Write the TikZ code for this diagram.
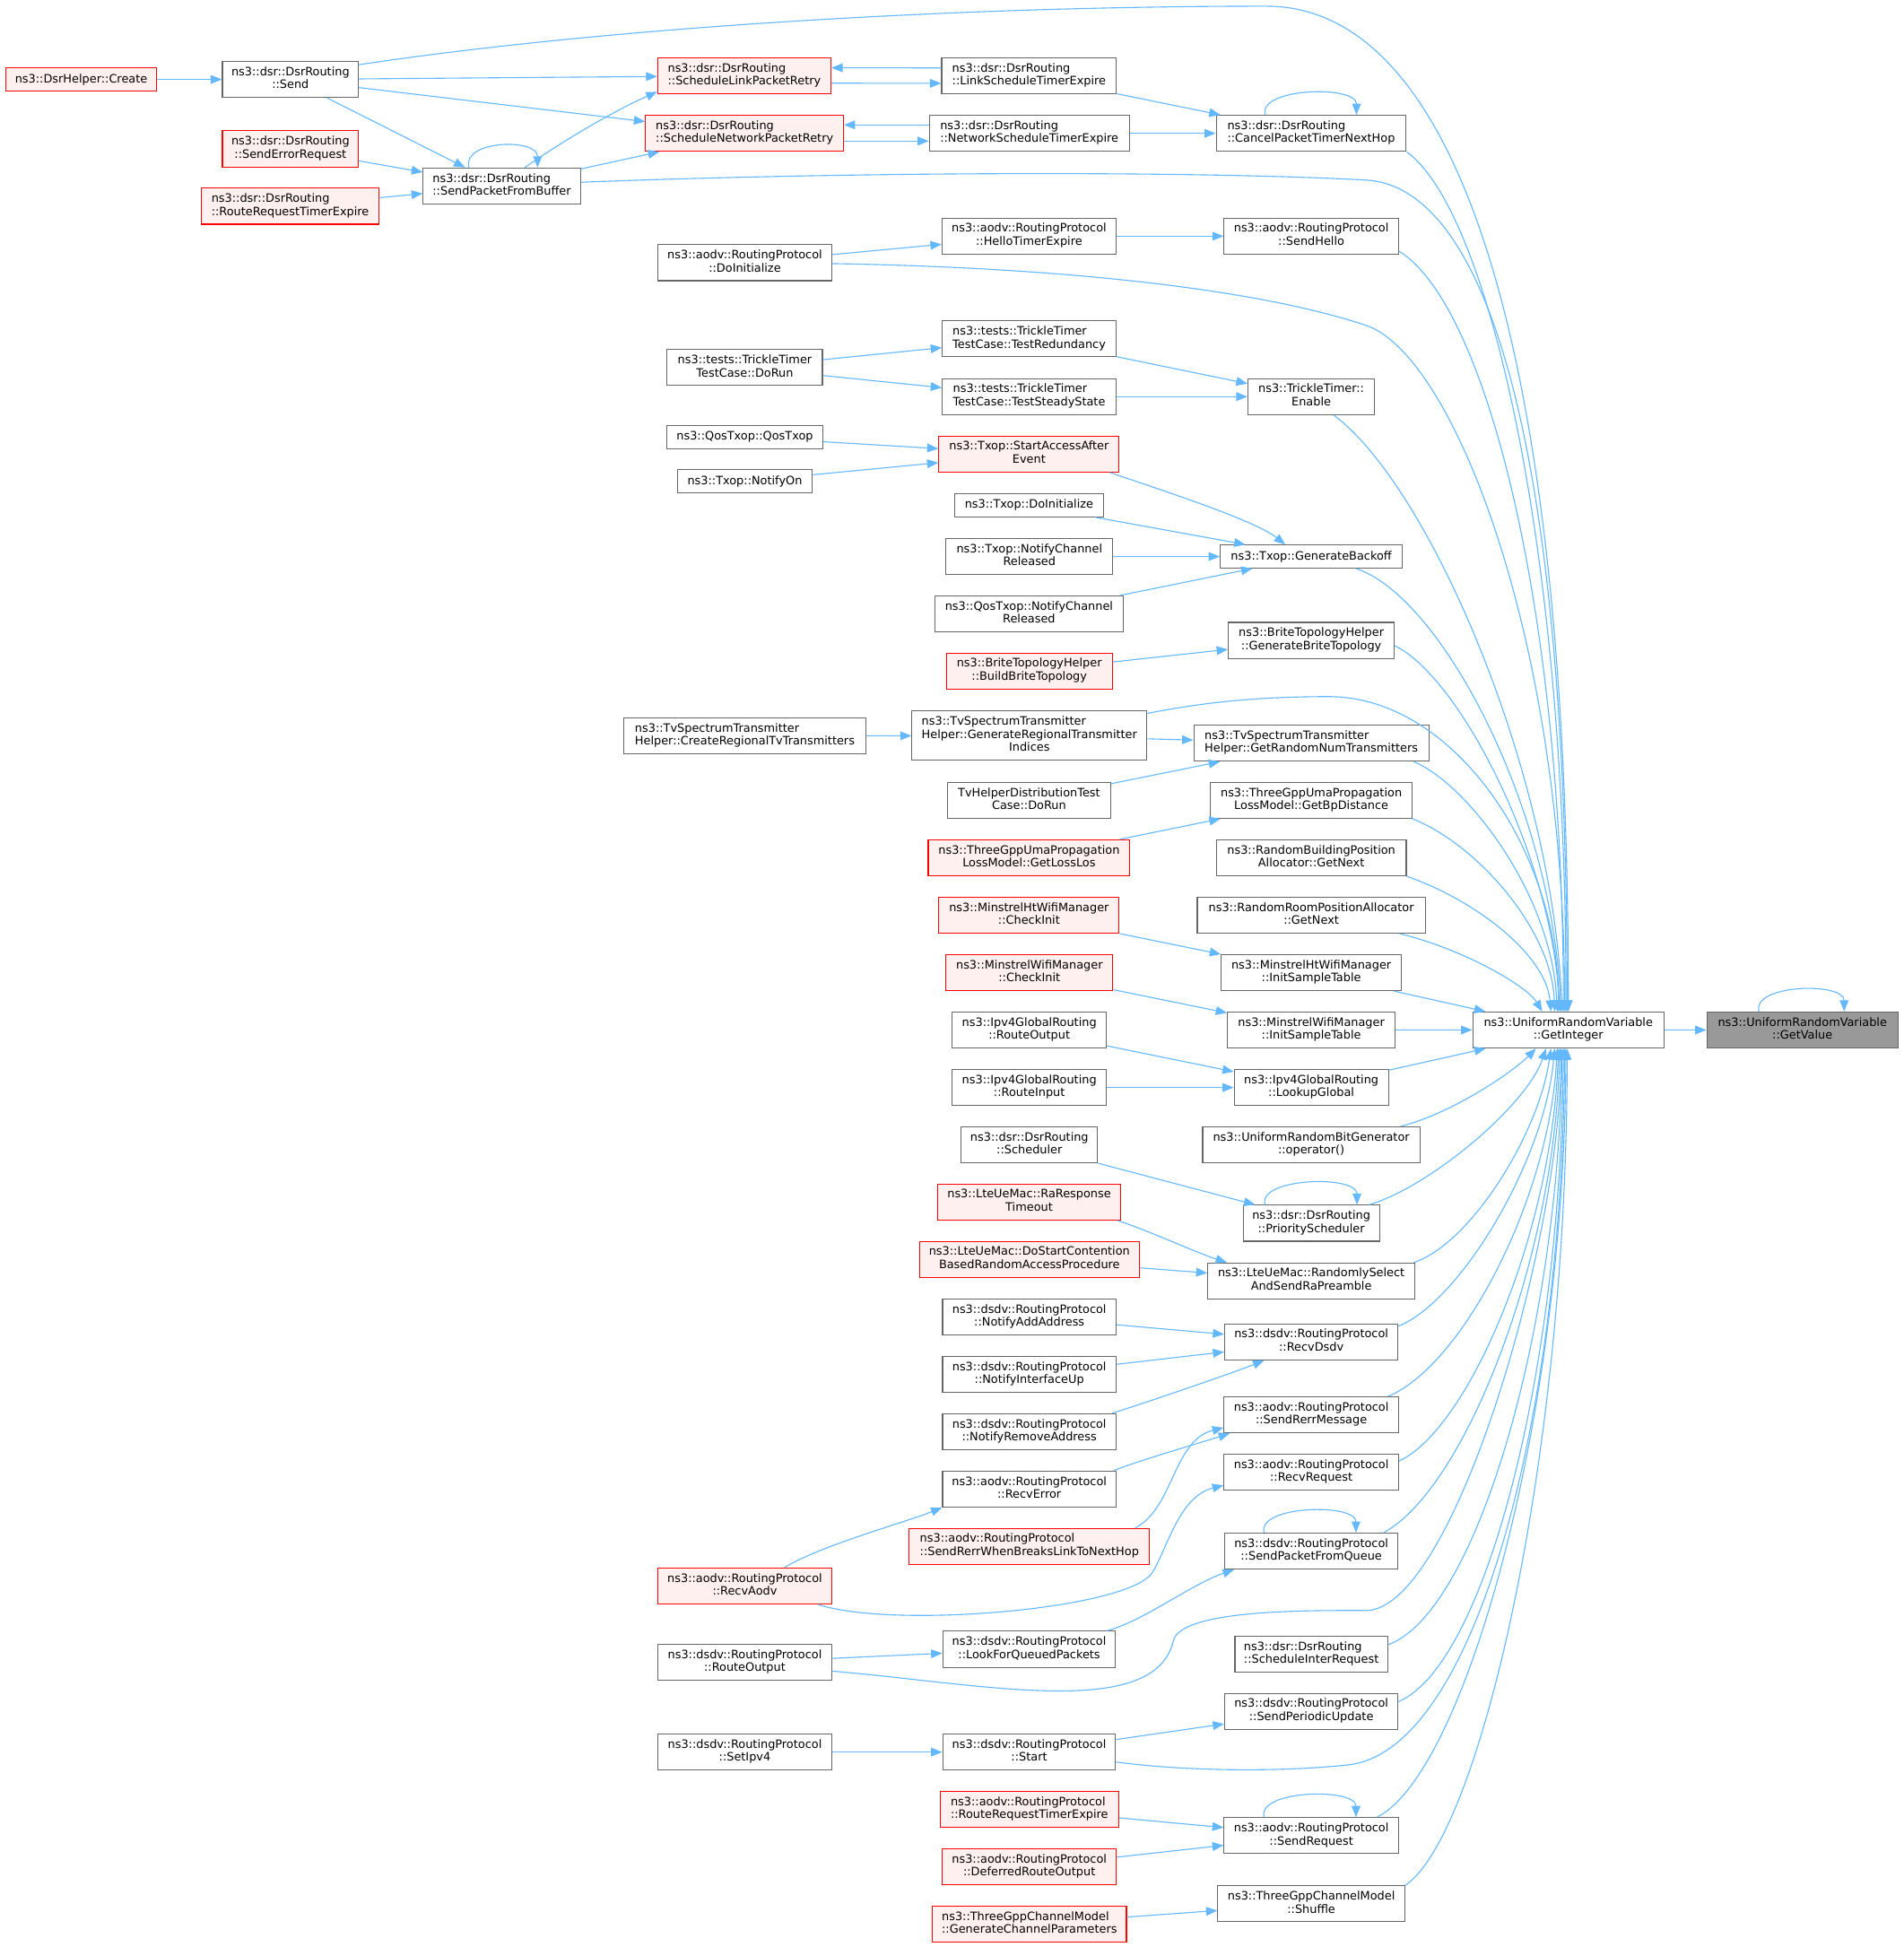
\documentclass[tikz,border=0pt]{standalone}
\usepackage{fontspec}
\setmainfont{DejaVu Sans}
\usetikzlibrary{arrows.meta}
\definecolor{edgeblue}{HTML}{63B8FF}
\definecolor{boxgray}{HTML}{666666}
\definecolor{redfill}{HTML}{FFF0F0}
\definecolor{gvfill}{HTML}{999999}
\newcommand\dfont{\fontsize{9.3}{10.5}\selectfont}
\newcommand\Ltwo[2]{\begin{tabular}{@{}l@{}}#1\\\multicolumn{1}{@{}c@{}}{#2}\end{tabular}}
\newcommand\Lthree[3]{\begin{tabular}{@{}l@{}}#1\\#2\\\multicolumn{1}{@{}c@{}}{#3}\end{tabular}}
\begin{document}
\begin{tikzpicture}[x=1pt,y=-1pt,
  box/.style={draw=boxgray, fill=white, line width=0.8pt, inner sep=0pt, minimum height=29pt, font=\dfont, anchor=center},
  one/.style={box, minimum height=18.5pt},
  redbox/.style={box, draw=red, fill=redfill},
  redone/.style={one, draw=red, fill=redfill},
  gvbox/.style={box, fill=gvfill},
  ar/.style={draw=edgeblue, line width=0.8pt, -{Triangle[length=9pt,width=7pt]}}]
\fill[white] (0,0) rectangle (1533,1568);
\useasboundingbox (0,0) rectangle (1533,1568);
% ---- column GetValue / GetInteger
\node[gvbox, minimum width=154pt] (getvalue) at (1451.5,829.5) {\Ltwo{ns3::UniformRandomVariable}{::GetValue}};
\node[box, minimum width=154pt] (getint) at (1263,829.5) {\Ltwo{ns3::UniformRandomVariable}{::GetInteger}};
% ---- column 3
\node[box, minimum width=153pt] (cancel) at (1055.9,107.4) {\Ltwo{ns3::dsr::DsrRouting}{::CancelPacketTimerNextHop}};
\node[box, minimum width=140.5pt] (sendhello) at (1056,190.2) {\Ltwo{ns3::aodv::RoutingProtocol}{::SendHello}};
\node[box, minimum width=102pt] (enable) at (1056,319.4) {\Ltwo{ns3::TrickleTimer::}{Enable}};
\node[one, minimum width=146.5pt] (genbackoff) at (1056,448.2) {ns3::Txop::GenerateBackoff};
\node[box, minimum width=133.6pt] (genbrite) at (1056,515.7) {\Ltwo{ns3::BriteTopologyHelper}{::GenerateBriteTopology}};
\node[box, minimum width=189.3pt] (getrandnum) at (1056,598.5) {\Ltwo{ns3::TvSpectrumTransmitter}{Helper::GetRandomNumTransmitters}};
\node[box, minimum width=162.3pt] (getbp) at (1056,644.5) {\Ltwo{ns3::ThreeGppUmaPropagation}{LossModel::GetBpDistance}};
\node[box, minimum width=153pt] (randbuild) at (1056,690.8) {\Ltwo{ns3::RandomBuildingPosition}{Allocator::GetNext}};
\node[box, minimum width=183.7pt] (randroom) at (1056,737) {\Ltwo{ns3::RandomRoomPositionAllocator}{::GetNext}};
\node[box, minimum width=144.8pt] (htinit) at (1056,783.3) {\Ltwo{ns3::MinstrelHtWifiManager}{::InitSampleTable}};
\node[box, minimum width=135pt] (mininit) at (1056,829.5) {\Ltwo{ns3::MinstrelWifiManager}{::InitSampleTable}};
\node[box, minimum width=124.2pt] (lookup) at (1056,875.8) {\Ltwo{ns3::Ipv4GlobalRouting}{::LookupGlobal}};
\node[box, minimum width=175pt] (urbg) at (1056,921.9) {\Ltwo{ns3::UniformRandomBitGenerator}{::operator()}};
\node[box, minimum width=109.7pt] (prio) at (1056,985.1) {\Ltwo{ns3::dsr::DsrRouting}{::PriorityScheduler}};
\node[box, minimum width=166.6pt] (randsel) at (1056,1031.6) {\Ltwo{ns3::LteUeMac::RandomlySelect}{AndSendRaPreamble}};
\node[box, minimum width=139.6pt] (recvdsdv) at (1056,1080.7) {\Ltwo{ns3::dsdv::RoutingProtocol}{::RecvDsdv}};
\node[box, minimum width=140.5pt] (senderr) at (1056,1139.4) {\Ltwo{ns3::aodv::RoutingProtocol}{::SendRerrMessage}};
\node[box, minimum width=140.5pt] (recvreq) at (1056,1185.6) {\Ltwo{ns3::aodv::RoutingProtocol}{::RecvRequest}};
\node[box, minimum width=139.7pt] (sendpfq) at (1056,1249.2) {\Ltwo{ns3::dsdv::RoutingProtocol}{::SendPacketFromQueue}};
\node[box, minimum width=123pt] (schedinter) at (1056,1332.1) {\Ltwo{ns3::dsr::DsrRouting}{::ScheduleInterRequest}};
\node[box, minimum width=139.7pt] (sendper) at (1056,1378.2) {\Ltwo{ns3::dsdv::RoutingProtocol}{::SendPeriodicUpdate}};
\node[box, minimum width=140.5pt] (sendreq) at (1056,1478.3) {\Ltwo{ns3::aodv::RoutingProtocol}{::SendRequest}};
\node[box, minimum width=150.5pt] (shuffle) at (1056,1533.2) {\Ltwo{ns3::ThreeGppChannelModel}{::Shuffle}};
% ---- column 2
\node[box, minimum width=140.7pt] (linkste) at (828.7,61.1) {\Ltwo{ns3::dsr::DsrRouting}{::LinkScheduleTimerExpire}};
\node[box, minimum width=161pt] (netste) at (828.9,107.4) {\Ltwo{ns3::dsr::DsrRouting}{::NetworkScheduleTimerExpire}};
\node[box, minimum width=140pt] (hello) at (828.7,190.2) {\Ltwo{ns3::aodv::RoutingProtocol}{::HelloTimerExpire}};
\node[box, minimum width=139.7pt] (testred) at (828.8,272.9) {\Ltwo{ns3::tests::TrickleTimer}{TestCase::TestRedundancy}};
\node[box, minimum width=139.7pt] (teststeady) at (828.8,319.4) {\Ltwo{ns3::tests::TrickleTimer}{TestCase::TestSteadyState}};
\node[redbox, minimum width=145.2pt] (startacc) at (828.7,365.6) {\Ltwo{ns3::Txop::StartAccessAfter}{Event}};
\node[one, minimum width=120.4pt] (txopinit) at (828.7,406.9) {ns3::Txop::DoInitialize};
\node[box, minimum width=134.5pt] (txopncr) at (829,448.2) {\Ltwo{ns3::Txop::NotifyChannel}{Released}};
\node[box, minimum width=152pt] (qosncr) at (828.7,494.4) {\Ltwo{ns3::QosTxop::NotifyChannel}{Released}};
\node[redbox, minimum width=133.6pt] (buildbrite) at (828.9,540.4) {\Ltwo{ns3::BriteTopologyHelper}{::BuildBriteTopology}};
\node[box, minimum width=189.3pt, minimum height=39.7pt] (genreg) at (829,592.5) {\Lthree{ns3::TvSpectrumTransmitter}{Helper::GenerateRegionalTransmitter}{Indices}};
\node[box, minimum width=131.5pt] (tvhelper) at (828.7,644.5) {\Ltwo{TvHelperDistributionTest}{Case::DoRun}};
\node[redbox, minimum width=162.3pt] (getlosslos) at (828.7,690.8) {\Ltwo{ns3::ThreeGppUmaPropagation}{LossModel::GetLossLos}};
\node[redbox, minimum width=145.2pt] (htcheck) at (828.7,737) {\Ltwo{ns3::MinstrelHtWifiManager}{::CheckInit}};
\node[redbox, minimum width=134.5pt] (mincheck) at (829,783.3) {\Ltwo{ns3::MinstrelWifiManager}{::CheckInit}};
\node[box, minimum width=124.2pt] (routeout4) at (828.9,829.5) {\Ltwo{ns3::Ipv4GlobalRouting}{::RouteOutput}};
\node[box, minimum width=124.2pt] (routein4) at (828.9,875.8) {\Ltwo{ns3::Ipv4GlobalRouting}{::RouteInput}};
\node[box, minimum width=109.7pt] (scheduler) at (829,921.9) {\Ltwo{ns3::dsr::DsrRouting}{::Scheduler}};
\node[redbox, minimum width=147pt] (raresp) at (828.8,968) {\Ltwo{ns3::LteUeMac::RaResponse}{Timeout}};
\node[redbox, minimum width=177.3pt] (dostart) at (829,1014.2) {\Ltwo{ns3::LteUeMac::DoStartContention}{BasedRandomAccessProcedure}};
\node[box, minimum width=139.6pt] (notifyadd) at (828.9,1060.7) {\Ltwo{ns3::dsdv::RoutingProtocol}{::NotifyAddAddress}};
\node[box, minimum width=139.6pt] (notifyup) at (828.9,1106.8) {\Ltwo{ns3::dsdv::RoutingProtocol}{::NotifyInterfaceUp}};
\node[box, minimum width=139.6pt] (notifyrem) at (828.9,1153) {\Ltwo{ns3::dsdv::RoutingProtocol}{::NotifyRemoveAddress}};
\node[box, minimum width=139.6pt] (recverr) at (828.9,1199.2) {\Ltwo{ns3::aodv::RoutingProtocol}{::RecvError}};
\node[redbox, minimum width=193.6pt] (senderrwhen) at (829,1245.4) {\Ltwo{ns3::aodv::RoutingProtocol}{::SendRerrWhenBreaksLinkToNextHop}};
\node[box, minimum width=139.2pt] (lookfor) at (828.8,1328.2) {\Ltwo{ns3::dsdv::RoutingProtocol}{::LookForQueuedPackets}};
\node[box, minimum width=139.2pt] (start) at (828.8,1411) {\Ltwo{ns3::dsdv::RoutingProtocol}{::Start}};
\node[redbox, minimum width=143.8pt] (rreqtimer) at (829,1457.3) {\Ltwo{ns3::aodv::RoutingProtocol}{::RouteRequestTimerExpire}};
\node[redbox, minimum width=140.1pt] (deferred) at (828.9,1503.4) {\Ltwo{ns3::aodv::RoutingProtocol}{::DeferredRouteOutput}};
\node[redbox, minimum width=156.3pt] (genchan) at (829,1549.5) {\Ltwo{ns3::ThreeGppChannelModel}{::GenerateChannelParameters}};
% ---- column 1
\node[redbox, minimum width=139.5pt] (schedlink) at (599.4,61) {\Ltwo{ns3::dsr::DsrRouting}{::ScheduleLinkPacketRetry}};
\node[redbox, minimum width=159.3pt] (schednet) at (599.6,107.4) {\Ltwo{ns3::dsr::DsrRouting}{::ScheduleNetworkPacketRetry}};
\node[box, minimum width=140.5pt] (aodvinit) at (599.8,211.6) {\Ltwo{ns3::aodv::RoutingProtocol}{::DoInitialize}};
\node[box, minimum width=125pt] (trickledorun) at (599.8,296) {\Ltwo{ns3::tests::TrickleTimer}{TestCase::DoRun}};
\node[one, minimum width=125.9pt] (qostxop) at (599.8,352) {ns3::QosTxop::QosTxop};
\node[one, minimum width=108.8pt] (notifyon) at (599.8,387.6) {ns3::Txop::NotifyOn};
\node[box, minimum width=194.4pt] (createreg) at (599.8,592.6) {\Ltwo{ns3::TvSpectrumTransmitter}{Helper::CreateRegionalTvTransmitters}};
\node[redbox, minimum width=140.6pt] (recvaodv) at (599.8,1277.2) {\Ltwo{ns3::aodv::RoutingProtocol}{::RecvAodv}};
\node[box, minimum width=139.6pt] (dsdvrouteout) at (599.8,1338.8) {\Ltwo{ns3::dsdv::RoutingProtocol}{::RouteOutput}};
\node[box, minimum width=139.6pt] (setipv4) at (599.8,1411) {\Ltwo{ns3::dsdv::RoutingProtocol}{::SetIpv4}};
% ---- far left
\node[box, minimum width=126.6pt] (sendpfb) at (404.1,149.8) {\Ltwo{ns3::dsr::DsrRouting}{::SendPacketFromBuffer}};
\node[box, minimum width=109.6pt] (send) at (233.9,64) {\Ltwo{ns3::dsr::DsrRouting}{::Send}};
\node[redbox, minimum width=109.6pt] (senderrreq) at (233.9,119.9) {\Ltwo{ns3::dsr::DsrRouting}{::SendErrorRequest}};
\node[redbox, minimum width=143.2pt] (dsrrreq) at (233.7,166.1) {\Ltwo{ns3::dsr::DsrRouting}{::RouteRequestTimerExpire}};
\node[redone, minimum width=121.6pt] (dsrhelper) at (65.4,64) {ns3::DsrHelper::Create};
% ================= edges
% top-left dsr cluster
\draw[ar] (dsrhelper) -- (send);
\draw[ar] (send) -- (schedlink);
\draw[ar] (send) -- (schednet);
\draw[ar] (send) -- (sendpfb);
\draw[ar] (senderrreq) -- (sendpfb);
\draw[ar] (dsrrreq) -- (sendpfb);
\draw[ar] ([xshift=-26.5pt]sendpfb.north) .. controls +(-6,-22) and +(0,-24) .. ([xshift=28.8pt]sendpfb.north);
\draw[ar] ([xshift=18.6pt]sendpfb.north) .. controls +(30,-21) and +(-36,16) .. ([yshift=2pt]schedlink.south west);
\draw[ar] (sendpfb) -- (schednet);
\draw[ar] ([yshift=3pt]sendpfb.east) .. controls +(200,-8) and +(-150,-8) .. (1100,145) .. controls +(90,5) and +(0,-485) .. ([xshift=-1pt]getint.north);
\draw[ar] ([yshift=-3pt]send.north east) .. controls +(200,-30) and +(-250,0) .. (1020,5) .. controls +(145,0) and +(0,-565) .. (getint.north);
% dsr timers
\draw[ar] ([yshift=6.4pt]linkste.west) -- ([yshift=6.4pt]schedlink.east);
\draw[ar] ([yshift=-6pt]schedlink.east) -- ([yshift=-6pt]linkste.west);
\draw[ar] ([yshift=6.8pt]netste.west) -- ([yshift=6.8pt]schednet.east);
\draw[ar] ([yshift=-6.2pt]schednet.east) -- ([yshift=-6.2pt]netste.west);
\draw[ar] (linkste) -- (cancel);
\draw[ar] (netste) -- (cancel);
\draw[ar] ([xshift=-37pt]cancel.north) .. controls +(-6,-22) and +(0,-24) .. ([xshift=36.5pt]cancel.north);
\draw[ar] (cancel.south east) .. controls +(67.6,49) and +(1,-365) .. ([xshift=-2pt]getint.north);
% aodv hello
\draw[ar] (aodvinit) -- (hello);
\draw[ar] (hello) -- (sendhello);
\draw[ar] ([yshift=-0.7pt]aodvinit.east) .. controls +(180,3) and +(-90,-30) .. (1100,262) .. controls +(70,23.3) and +(0,-300) .. ([xshift=-3pt]getint.north);
\draw[ar] ([yshift=2.8pt]sendhello.south east) .. controls +(70,43) and +(0,-325) .. ([xshift=-4pt]getint.north);
% trickle
\draw[ar] (trickledorun) -- (testred);
\draw[ar] (trickledorun) -- (teststeady);
\draw[ar] (testred) -- (enable);
\draw[ar] (teststeady) -- (enable);
\draw[ar] ([xshift=18pt]enable.south) .. controls +(76,56) and +(-8,-195) .. ([xshift=-5pt]getint.north);
% txop
\draw[ar] (qostxop) -- (startacc);
\draw[ar] (notifyon) -- (startacc);
\draw[ar] ([xshift=65pt]startacc.south) .. controls +(35,12) and +(-25,-20) .. ([xshift=-21pt]genbackoff.north);
\draw[ar] (txopinit) -- (genbackoff);
\draw[ar] (txopncr) -- (genbackoff);
\draw[ar] (qosncr) -- (genbackoff);
\draw[ar] ([xshift=36pt]genbackoff.south) .. controls +(68,22) and +(-7,-165) .. ([xshift=-6pt]getint.north);
% brite
\draw[ar] (buildbrite) -- (genbrite);
\draw[ar] ([yshift=-4.3pt]genbrite.east) .. controls +(52,25) and +(-6,-125) .. ([xshift=-7pt]getint.north);
% tv spectrum
\draw[ar] (createreg) -- (genreg);
\draw[ar] (genreg) -- (getrandnum);
\draw[ar] (tvhelper) -- (getrandnum);
\draw[ar] ([yshift=-2.3pt]genreg.north east) .. controls +(50,-10) and +(-50,0) .. (1070,561) .. controls +(100,0) and +(0,-130) .. ([xshift=-8pt]getint.north);
\draw[ar] ([xshift=-12.6pt]getrandnum.south east) .. controls +(42,17) and +(-4,-95) .. ([xshift=-9pt]getint.north);
% threegpp / position allocators
\draw[ar] (getlosslos) -- (getbp);
\draw[ar] (getbp.south east) .. controls +(52.7,21) and +(-2,-65) .. ([xshift=-11pt]getint.north);
\draw[ar] (randbuild.south east) .. controls +(57,20) and +(-4,-45) .. ([xshift=-14pt]getint.north);
\draw[ar] ([xshift=-21pt]randroom.south east) .. controls +(53,13) and +(-12,-20) .. ([xshift=-21pt]getint.north);
% minstrel
\draw[ar] (htcheck) -- (htinit);
\draw[ar] (mincheck) -- (mininit);
\draw[ar] (htinit) -- (getint);
\draw[ar] (mininit) -- (getint);
% ipv4
\draw[ar] (routeout4) -- (lookup);
\draw[ar] (routein4) -- (lookup);
\draw[ar] (lookup) -- (getint);
\draw[ar] ([xshift=-15.7pt]urbg.north east) .. controls +(40,-10) and +(-20,20) .. ([xshift=-26pt]getint.south);
% priority scheduler
\draw[ar] (scheduler.south east) -- ([xshift=10pt]prio.north west);
\draw[ar] ([xshift=-37.3pt]prio.north) .. controls +(-6,-22) and +(0,-24) .. ([xshift=36.8pt]prio.north);
\draw[ar] ([xshift=-8.5pt]prio.north east) .. controls +(50,-15) and +(-15,45) .. ([xshift=-18pt]getint.south);
% lte
\draw[ar] ([xshift=71pt]raresp.south) .. controls +(25,8) and +(-25,-8) .. ([xshift=-68pt]randsel.north);
\draw[ar] (dostart) -- (randsel);
\draw[ar] ([xshift=-1pt]randsel.north east) .. controls +(45,-15) and +(-10,70) .. ([xshift=-14pt]getint.south);
% dsdv recv
\draw[ar] (notifyadd) -- (recvdsdv);
\draw[ar] (notifyup) -- (recvdsdv);
\draw[ar] ([xshift=66.6pt]notifyrem.north) .. controls +(20,-6) and +(-25,10) .. ([xshift=-38pt]recvdsdv.south);
\draw[ar] ([yshift=12.7pt]recvdsdv.east) .. controls +(50,-20) and +(-8,90) .. ([xshift=-11pt]getint.south);
% aodv rerr
\draw[ar] ([xshift=68pt]recverr.north) .. controls +(20,-8) and +(-25,8) .. ([xshift=5pt]senderr.south west);
\draw[ar] ([xshift=-12pt]senderrwhen.north east) .. controls +(31,-16) and +(-40.5,10) .. ([yshift=-10.4pt]senderr.west);
\draw[ar] ([xshift=-8.7pt]senderr.north east) .. controls +(60,-25) and +(-6,120) .. ([xshift=-9pt]getint.south);
% recv aodv
\draw[ar] ([xshift=32pt]recvaodv.north) .. controls +(30,-18) and +(-30,12) .. (recverr.south west);
\draw[ar] ([xshift=59pt]recvaodv.south) .. controls +(60,20) and +(-18,30) .. (928.3,1266) .. controls +(12,-20) and +(-35.5,8.8) .. ([yshift=-10.6pt]recvreq.west);
\draw[ar] ([yshift=9pt]recvreq.east) .. controls +(55,-25) and +(-5,150) .. ([xshift=-8pt]getint.south);
% send packet from queue
\draw[ar] ([xshift=-38pt]sendpfq.north) .. controls +(-6,-22) and +(0,-24) .. ([xshift=36pt]sendpfq.north);
\draw[ar] ([xshift=-7.4pt]lookfor.north east) .. controls +(30,-8) and +(-35,12) .. ([xshift=8pt]sendpfq.south west);
\draw[ar] ([xshift=-12pt]sendpfq.north east) .. controls +(65,-35) and +(-4,170) .. ([xshift=-7pt]getint.south);
% dsdv route output
\draw[ar] (dsdvrouteout) -- (lookfor);
\draw[ar] ([yshift=-7pt]dsdvrouteout.east) .. controls +(120,10) and +(-15,65) .. (944.9,1321.4) .. controls +(6,-26) and +(-40,0) .. (1100,1297) .. controls +(70,0) and +(0,156) .. ([xshift=-6pt]getint.south);
\draw[ar] ([yshift=7.6pt]schedinter.east) .. controls +(70,-25) and +(-3,230) .. ([xshift=-5pt]getint.south);
% dsdv start
\draw[ar] (setipv4) -- (start);
\draw[ar] (start) -- (sendper);
\draw[ar] ([yshift=7.8pt]sendper.east) .. controls +(70,-30) and +(-2,260) .. ([xshift=-4pt]getint.south);
\draw[ar] ([yshift=-8pt]start.east) .. controls +(60,8) and +(-50,5.5) .. (1085.8,1421.3) .. controls +(100,-11) and +(-2,306) .. ([xshift=-3pt]getint.south);
% aodv send request
\draw[ar] (rreqtimer) -- (sendreq);
\draw[ar] (deferred) -- (sendreq);
\draw[ar] ([xshift=-38pt]sendreq.north) .. controls +(-6,-22) and +(0,-24) .. ([xshift=36pt]sendreq.north);
\draw[ar] ([xshift=-17.7pt]sendreq.north east) .. controls +(70,-35) and +(-1,300) .. ([xshift=-2pt]getint.south);
% shuffle
\draw[ar] (genchan) -- (shuffle);
\draw[ar] (shuffle.north east) .. controls +(60,-40) and +(0,330) .. ([xshift=-1pt]getint.south);
% get value
\draw[ar] (getint) -- (getvalue);
\draw[ar] ([xshift=-35pt]getvalue.north) .. controls +(-6,-22) and +(0,-24) .. ([xshift=33.6pt]getvalue.north);
\end{tikzpicture}
\end{document}
